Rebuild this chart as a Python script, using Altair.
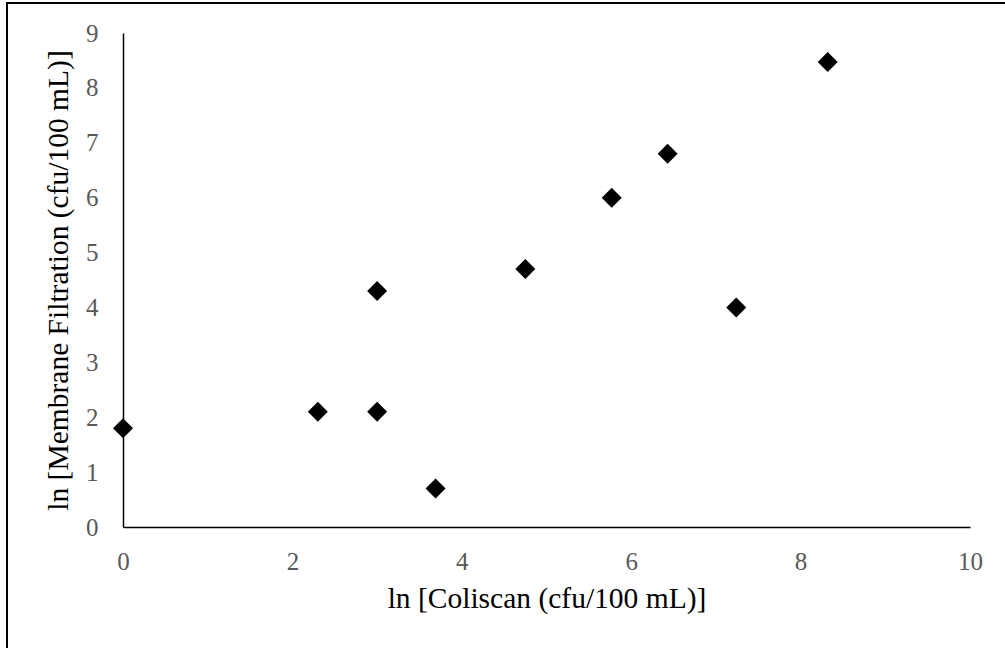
import altair as alt
import pandas as pd

coliscan = [0.0, 2.30, 3.0, 3.0, 3.69, 4.75, 5.77, 6.43, 7.24, 8.32]
membrane = [1.80, 2.10, 2.10, 4.30, 0.70, 4.70, 6.00, 6.80, 4.00, 8.47]

df = pd.DataFrame({"x": coliscan, "y": membrane})

FONT = "Liberation Serif"

points = alt.Chart(df).mark_point(
    shape="diamond", filled=True, color="black", size=400, opacity=1
).encode(
    x=alt.X("x:Q", scale=alt.Scale(domain=[0, 10], nice=False, zero=False),
            axis=alt.Axis(values=[0, 2, 4, 6, 8, 10], title="ln [Coliscan (cfu/100 mL)]",
                          grid=False, ticks=False, domainColor="black", domainWidth=1.5,
                          labelColor="#595959", labelFont=FONT, labelFontSize=25,
                          labelPadding=22, labelFlush=False, titleFont=FONT, titleFontSize=29.5,
                          titleFontWeight="normal", titleColor="black", titlePadding=10)),
    y=alt.Y("y:Q", scale=alt.Scale(domain=[0, 9], nice=False, zero=False),
            axis=alt.Axis(values=list(range(10)), title="ln [Membrane Filtration (cfu/100 mL)]",
                          grid=False, ticks=False, domainColor="black", domainWidth=1.5,
                          labelColor="#595959", labelFont=FONT, labelFontSize=25,
                          labelPadding=25, labelFlush=False, titleFont=FONT, titleFontSize=29.5,
                          titleFontWeight="normal", titleColor="black", titlePadding=12)),
)

border = alt.Chart(pd.DataFrame({"a": [0]})).mark_rect(
    fill=None, stroke="black", strokeWidth=2
).encode(
    x=alt.value(-116), x2=alt.value(900), y=alt.value(-30), y2=alt.value(640)
)

chart = alt.layer(border, points).properties(
    width=847, height=494,
    autosize=alt.AutoSizeParams(type="none"),
    padding={"left": 123, "top": 33, "right": 35, "bottom": 121},
    background="white",
).configure_view(stroke=None)

chart.save("out.html", embed_options={"renderer": "svg", "actions": False})
